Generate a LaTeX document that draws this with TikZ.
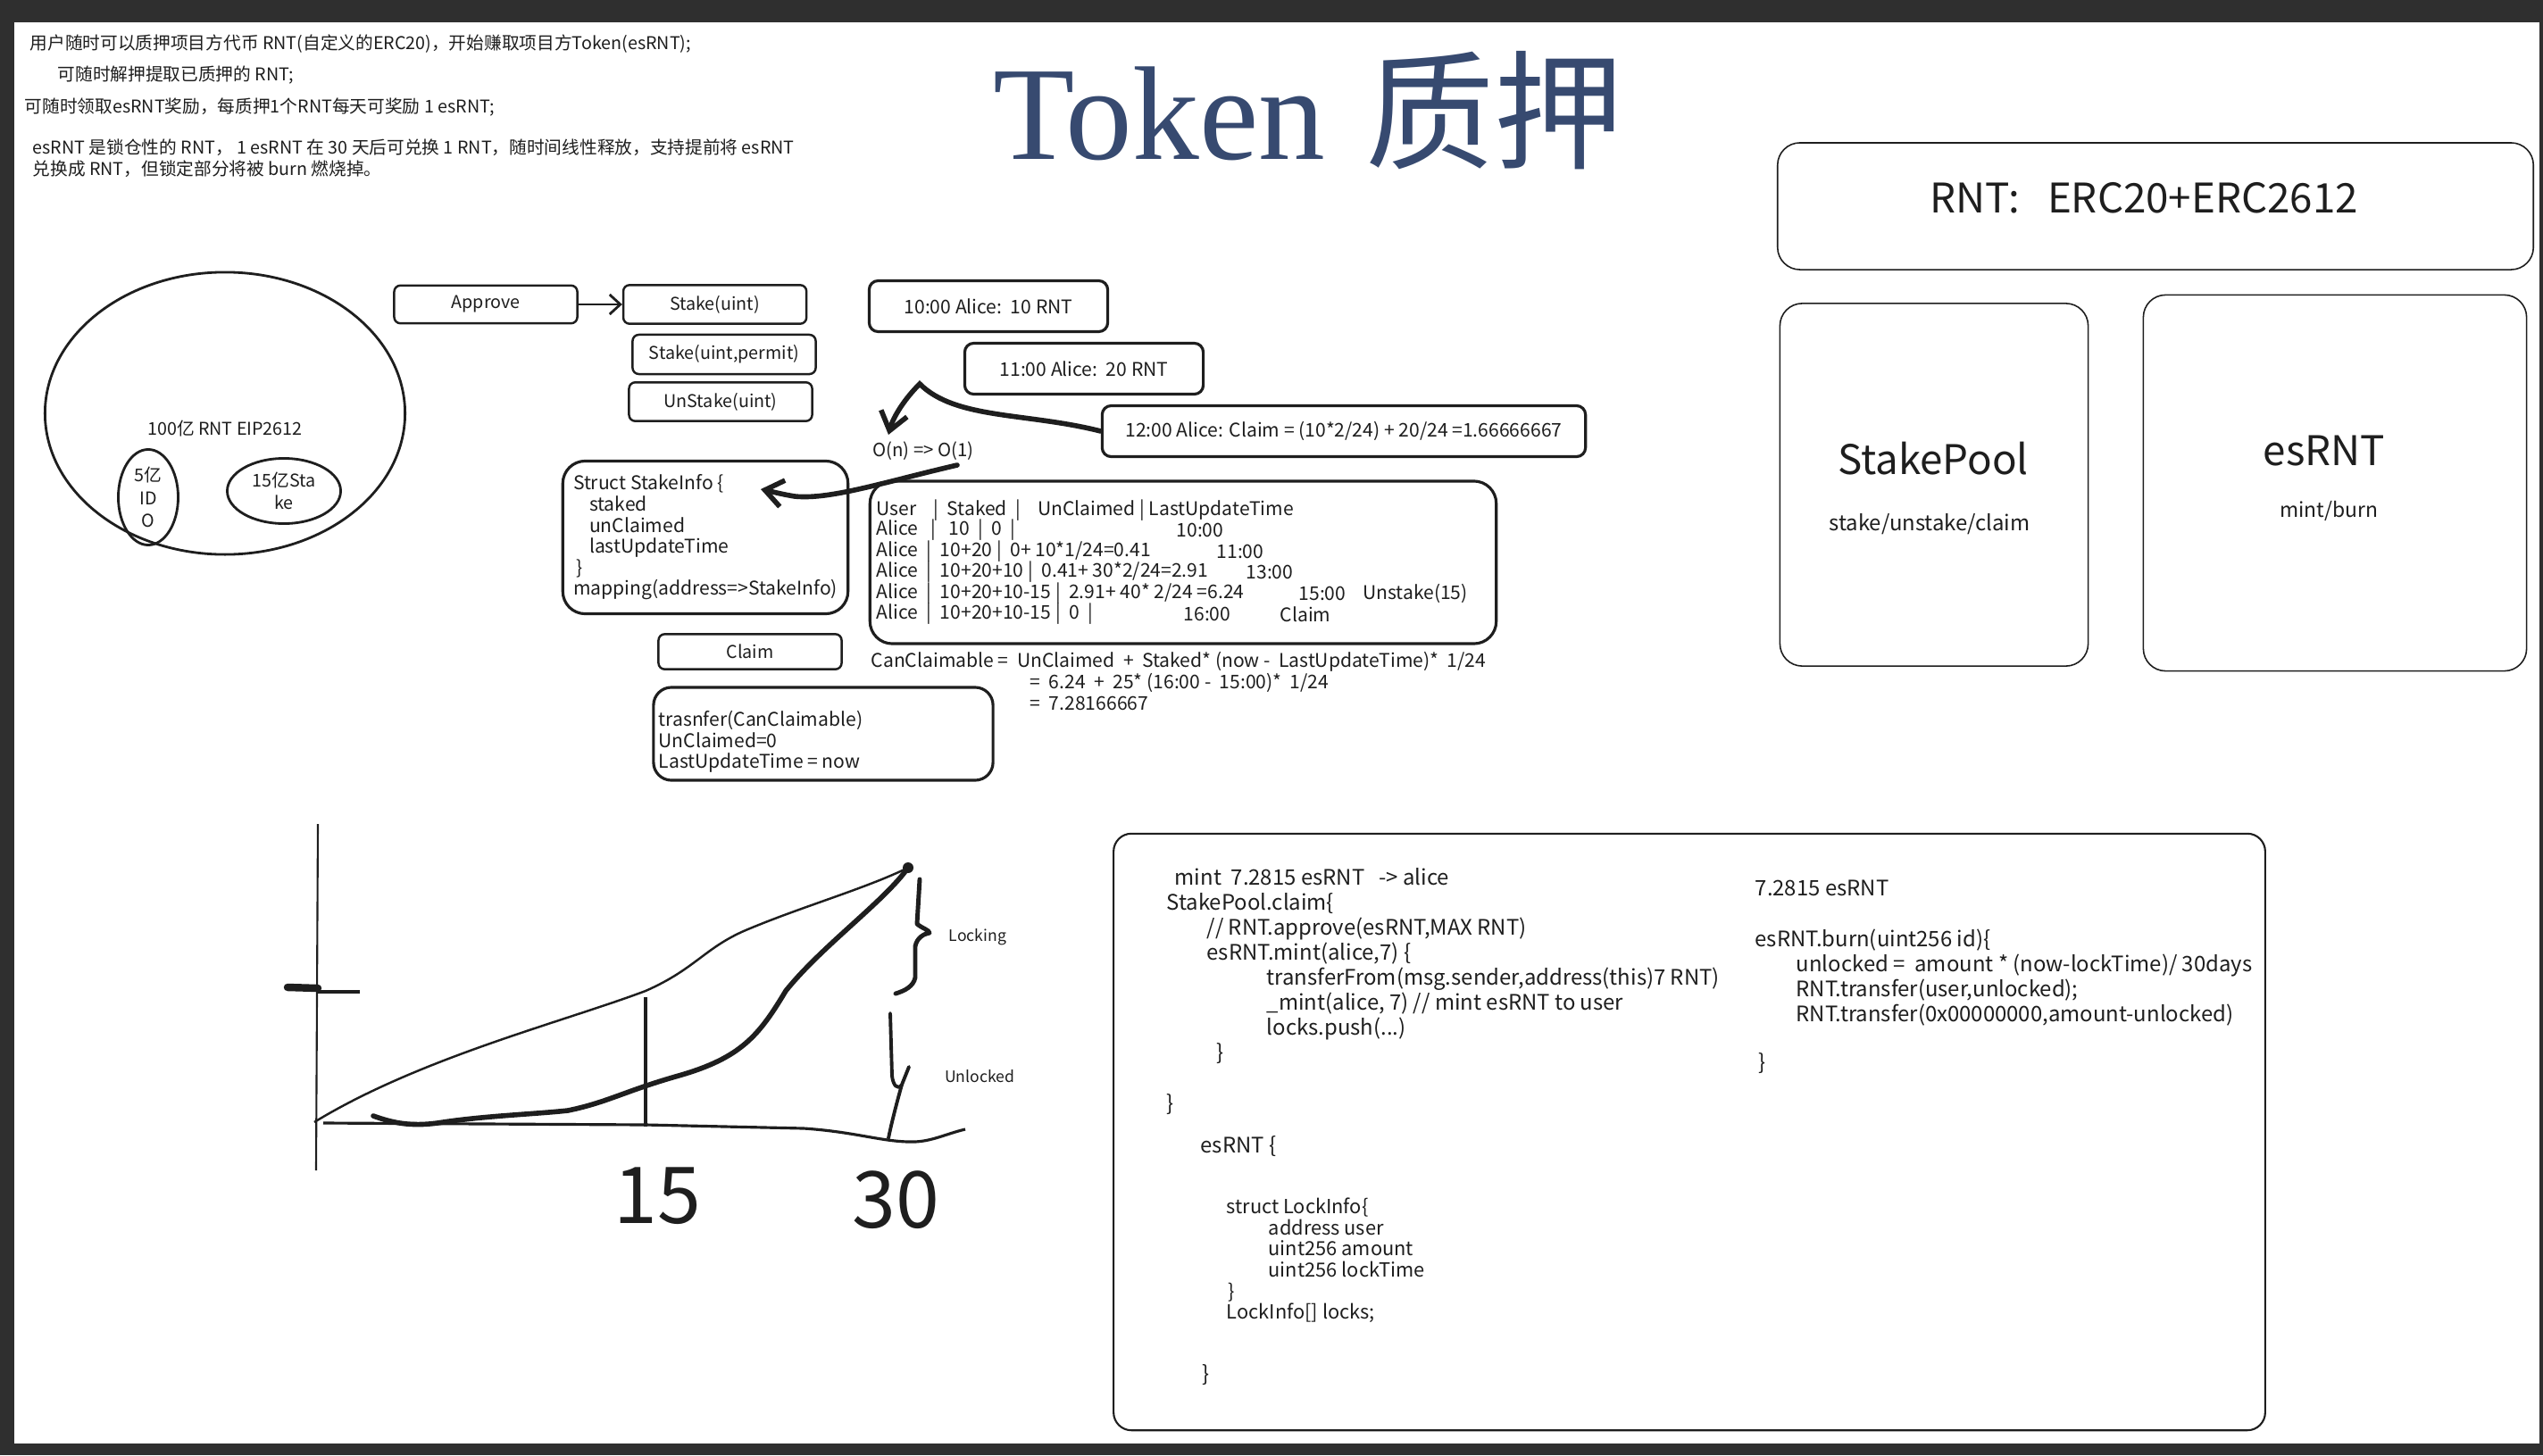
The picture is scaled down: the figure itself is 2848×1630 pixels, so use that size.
\documentclass[tikz,border=0pt]{standalone}
\usepackage{fontspec}
\setmainfont{Noto Sans CJK SC}
\newfontfamily\serifen{Liberation Serif}
\usepackage{tikz}
\usetikzlibrary{
    positioning,
    arrows.meta,
    shapes.geometric
}
\definecolor{frame}{HTML}{2F2F2F}
\definecolor{ink}{HTML}{1E1E1E}
\definecolor{titleblue}{HTML}{374A70}

\begin{document}
\begin{tikzpicture}[x=0.01cm, y=-0.01cm, color=ink,
        btn/.style={draw, line width=0.7pt, rounded corners=0.07cm, minimum width=2.05cm, minimum height=0.36cm, font=\fontsize{5.6}{6.5}\selectfont},
        bubble/.style={draw, line width=0.9pt, rounded corners=0.1cm, minimum height=0.57cm, font=\fontsize{6}{7}\selectfont},
        card/.style={draw, line width=0.9pt, rounded corners=0.25cm},
        panel/.style={draw, line width=0.45pt, rounded corners=0.25cm},
        blob/.style={draw, ellipse, line width=0.8pt, inner sep=0pt, align=center},
        note/.style={font=\fontsize{5.6}{6.5}\selectfont, anchor=west, inner sep=0pt},
        row/.style={font=\fontsize{6}{6.7}\selectfont, anchor=west, inner sep=0pt, align=left},
        code/.style={font=\fontsize{6.8}{8}\selectfont, anchor=west, inner sep=0pt, align=left},
        pen/.style={line width=1.6pt, line cap=round, line join=round},
        bigarrow/.style={line width=1.6pt, line cap=round, -{Straight Barb[length=0.2cm, width=0.3cm]}}
      ]

      \useasboundingbox (0,0) rectangle (2848,1630);
      \fill[frame] (0,0) rectangle (2848,1630);
      \fill[white] (16,25) rectangle (2844,1617);

      % notes at the top left
      \node[note] (n1) at (33,49) {用户随时可以质押项目方代币 RNT(自定义的ERC20)，开始赚取项目方Token(esRNT);};
      \node[note] (n2) at (64,84) {可随时解押提取已质押的 RNT;};
      \node[note] (n3) at (27,120) {可随时领取esRNT奖励，每质押1个RNT每天可奖励 1 esRNT;};
      \node[note] (n4) at (36,165) {esRNT 是锁仓性的 RNT， 1 esRNT 在 30 天后可兑换 1 RNT，随时间线性释放，支持提前将 esRNT};
      \node[note] (n5) at (36,189) {兑换成 RNT，但锁定部分将被 burn 燃烧掉。};

      \node[anchor=base west, text=titleblue, inner sep=0pt, font=\fontsize{41}{44}\selectfont] (title) at (1112,178)
        {{\serifen\fontsize{42.5}{44}\selectfont Token}\hspace{0.45cm}质押};

      % supply
      \node[blob, minimum width=4.03cm, minimum height=3.16cm] (supply) at (252,463) {};
      \node[font=\fontsize{5.6}{6.5}\selectfont] (total) at (252,480) {100亿 RNT EIP2612};
      \node[blob, minimum width=0.67cm, minimum height=1.07cm, font=\fontsize{5.6}{7.2}\selectfont] (ido) at (166,557) {5亿\\ID\\O};
      \node[blob, minimum width=1.27cm, minimum height=0.73cm, font=\fontsize{5.6}{7}\selectfont] (pool15) at (318,550) {15亿Sta\\ke};

      % stake pool calls
      \node[btn] (appr) at (544,341) {Approve};
      \node[btn, right=0.49cm of appr] (stk) {Stake(uint)};
      \node[btn] (stkp) at (811,397) {Stake(uint,permit)};
      \node[btn] (unstk) at (807,450) {UnStake(uint)};
      \draw[line width=0.8pt, -{Straight Barb[length=0.12cm, width=0.22cm]}] (appr) -- (stk);

      \node[bubble, minimum width=2.67cm] (t10) at (1107,343) {10:00 Alice:\ \ 10 RNT};
      \node[bubble, minimum width=2.67cm] (t11) at (1214,413) {11:00 Alice:\ \ 20 RNT};
      \node[bubble, minimum width=5.41cm] (t12) at (1505,483) {12:00 Alice: Claim = (10*2/24) + 20/24 =1.66666667};
      \node[font=\fontsize{5.8}{7}\selectfont] (on) at (1034,505) {O(n) => O(1)};

      \node[card, align=left, minimum width=3.12cm, minimum height=1.71cm, font=\fontsize{6}{6.7}\selectfont] (sinfo) at (790,602)
        {Struct StakeInfo \{\\\hspace*{0.18cm}staked\\\hspace*{0.18cm}unClaimed\\\hspace*{0.18cm}lastUpdateTime\\\hspace*{0.03cm}\}\\mapping(address=>StakeInfo)};

      \coordinate (onhead) at (995,487);
      \coordinate (onfoot) at (1072,521);
      \coordinate (brace) at (852,548);
      \draw[bigarrow] (t12.west) .. controls (1150,462) and (1070,470) .. (1030,430) .. controls (1012,448) and (1000,468) .. (onhead);
      \draw[bigarrow] (onfoot) .. controls (990,540) and (930,560) .. (890,556) .. controls (872,553) and (862,550) .. (brace);

      % ledger
      \node[card, minimum width=7.01cm, minimum height=1.82cm] (tbl) at (1325,630) {};
      \node[row] (r0) at (981,572) {User\ \ \ \ |\ \ Staked\ \ |\ \ \ \ UnClaimed | LastUpdateTime};
      \node[row] (r1) at (981,594) {Alice\ \ \ |\ \ \ 10\ \ |\ \ 0\ \ |};
      \node[row] (r2) at (981,618) {Alice\ \ |\ \ 10+20 |\ \ 0+ 10*1/24=0.41};
      \node[row] (r3) at (981,641) {Alice\ \ |\ \ 10+20+10 |\ \ 0.41+ 30*2/24=2.91};
      \node[row] (r4) at (981,665) {Alice\ \ |\ \ 10+20+10-15 |\ \ 2.91+ 40* 2/24 =6.24};
      \node[row] (r5) at (981,688) {Alice\ \ |\ \ 10+20+10-15 |\ \ 0\ \ |};
      \node[row, anchor=center] (r1t) at (1344,594) {10:00};
      \node[row, anchor=center] (r2t) at (1389,618) {11:00};
      \node[row, anchor=center] (r3t) at (1422,641) {13:00};
      \node[row, anchor=center] (r4t) at (1481,665) {15:00};
      \node[row, anchor=center] (r4a) at (1585,665) {Unstake(15)};
      \node[row, anchor=center] (r5t) at (1352,688) {16:00};
      \node[row, anchor=center] (r5a) at (1462,688) {Claim};

      \node[btn] (clm) at (840,730) {Claim};
      \node[card, rounded corners=0.2cm, minimum width=3.8cm, minimum height=1.04cm] (xfer) at (922,822) {};
      \node[row] (xtxt) at (737,831) {trasnfer(CanClaimable)\\UnClaimed=0\\LastUpdateTime = now};

      \node[row] (f1) at (975,741) {CanClaimable =\ \ UnClaimed\ \ +\ \ Staked* (now -\ \ LastUpdateTime)*\ \ 1/24};
      \node[row] (f2) at (1153,765) {=\ \ 6.24\ \ +\ \ 25* (16:00 -\ \ 15:00)*\ \ 1/24};
      \node[row] (f3) at (1153,788) {=\ \ 7.28166667};

      % contracts
      \node[panel, minimum width=8.46cm, minimum height=1.42cm] (rnt) at (2414,231) {};
      \node[font=\fontsize{13}{15}\selectfont] (rntname) at (2401,222) {RNT:\ \ \ ERC20+ERC2612};
      \node[panel, minimum width=3.45cm, minimum height=4.06cm] (spool) at (2166,543) {};
      \node[font=\fontsize{13}{15}\selectfont] (spname) at (2165,514) {StakePool};
      \node[font=\fontsize{6.8}{8}\selectfont] (spops) at (2161,587) {stake/unstake/claim};
      \node[panel, minimum width=4.29cm, minimum height=4.21cm] (esrnt) at (2615,541) {};
      \node[font=\fontsize{13}{15}\selectfont] (esname) at (2603,505) {esRNT};
      \node[font=\fontsize{6.5}{8}\selectfont] (esops) at (2608,572) {mint/burn};

      % vesting sketch
      \draw[line width=0.6pt] (356,923) -- (354,1311);
      \draw[line width=2.4pt, line cap=round] (322,1106) -- (356,1107);
      \draw[line width=1.2pt] (356,1111) -- (403,1111);
      \draw[line width=0.9pt] (362,1258) -- (723,1260) -- (900,1264) .. controls (960,1268) and (990,1280) .. (1025,1279) .. controls (1045,1278) and (1060,1270) .. (1081,1265);
      \draw[line width=0.7pt] (352,1257) .. controls (470,1185) and (630,1145) .. (723,1110) .. controls (780,1085) and (790,1060) .. (840,1040) .. controls (900,1015) and (970,995) .. (1017,972);
      \draw[pen] (418,1250) .. controls (440,1258) and (460,1262) .. (490,1258) .. controls (540,1250) and (600,1248) .. (636,1244) .. controls (680,1235) and (700,1222) .. (760,1205) .. controls (830,1185) and (850,1160) .. (880,1110) .. controls (920,1060) and (990,1010) .. (1017,972);
      \fill (1017,972) circle[radius=0.06cm];
      \draw[line width=1.2pt] (723,1117) -- (723,1262);
      \draw[pen, line width=1.4pt] (1030,985) -- (1027,1035) .. controls (1033,1040) and (1041,1042) .. (1041,1045) .. controls (1035,1046) and (1027,1050) .. (1025,1060) -- (1025,1095) .. controls (1023,1105) and (1013,1110) .. (1003,1113);
      \draw[pen, line width=1.1pt] (997,1135) -- (999,1205) .. controls (1000,1215) and (1005,1222) .. (1010,1215) -- (1018,1195);
      \draw[pen, line width=1.1pt] (1010,1215) .. controls (1003,1240) and (998,1260) .. (995,1275);
      \node[font=\fontsize{25}{30}\selectfont] (d15) at (736,1340) {15};
      \node[font=\fontsize{25}{30}\selectfont] (d30) at (1003,1344) {30};
      \node[font=\fontsize{5}{6}\selectfont] (lk) at (1095,1050) {Locking};
      \node[font=\fontsize{5}{6}\selectfont] (ul) at (1097,1206) {Unlocked};

      % code notes
      \node[draw, line width=0.6pt, rounded corners=0.2cm, minimum width=12.89cm, minimum height=6.68cm] (codebox) at (1892,1268) {};
      \node[code] (claimcode) at (1306,1082)
        {\hspace*{0.09cm}mint\ \ 7.2815 esRNT\ \ \ -> alice\\StakePool.claim\{\\\hspace*{0.45cm}// RNT.approve(esRNT,MAX RNT)\\\hspace*{0.45cm}esRNT.mint(alice,7) \{\\\hspace*{1.12cm}transferFrom(msg.sender,address(this)7 RNT)\\\hspace*{1.12cm}\_mint(alice, 7) // mint esRNT to user\\\hspace*{1.12cm}locks.push(...)\\\hspace*{0.56cm}\}};
      \node[code] (claimend) at (1306,1237) {\}};
      \node[code] (esopen) at (1344,1284) {esRNT \{};
      \node[code, font=\fontsize{6.2}{6.7}\selectfont] (lockinfo) at (1373,1412)
        {struct LockInfo\{\\\hspace*{0.47cm}address user\\\hspace*{0.47cm}uint256 amount\\\hspace*{0.47cm}uint256 lockTime\\\hspace*{0.02cm}\}\\LockInfo[] locks;};
      \node[code] (esclose) at (1346,1540) {\}};
      \node[code] (amt) at (1965,995) {7.2815 esRNT};
      \node[code] (burn) at (1965,1095)
        {esRNT.burn(uint256 id)\{\\\hspace*{0.46cm}unlocked =\ \ amount * (now-lockTime)/ 30days\\\hspace*{0.46cm}RNT.transfer(user,unlocked);\\\hspace*{0.46cm}RNT.transfer(0x00000000,amount-unlocked)};
      \node[code] (burnend) at (1969,1191) {\}};
    \end{tikzpicture}
\end{document}
